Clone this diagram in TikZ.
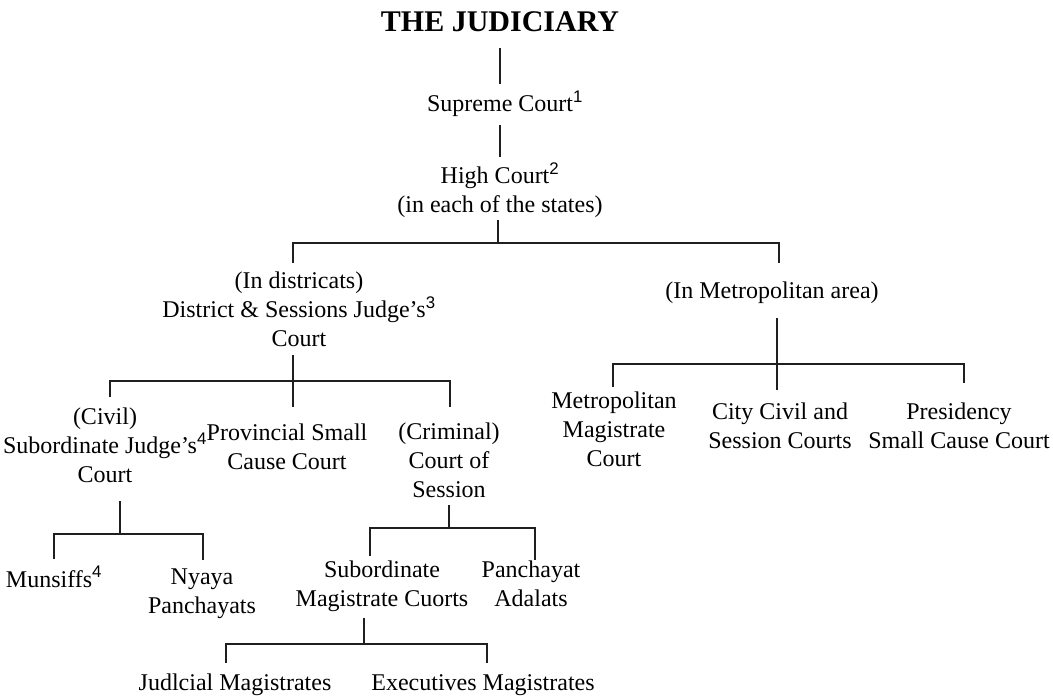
\documentclass[tikz,border=0pt]{standalone}
\usepackage{fontspec}
\setmainfont{Liberation Serif}
\setsansfont{Liberation Sans}
\newcommand{\fnmark}[1]{\textsuperscript{\sffamily #1}}
\begin{document}
\begin{tikzpicture}[x=1pt, y=-1pt,
  every node/.style={inner sep=0pt, align=center, font=\fontsize{24}{29}\selectfont, text=black},
  tree/.style={line width=2.8pt, draw=black!88}]
\useasboundingbox (0,0) rectangle (1053,700);
% title and upper courts
\node[font=\fontsize{30}{36}\selectfont\bfseries, anchor=base] (title) at (500,32) {THE JUDICIARY};
\node[anchor=base] (supreme) at (505,112) {Supreme Court\fnmark{1}};
\node (high) at (500,190) {High Court\fnmark{2}\\(in each of the states)};
\draw[tree, shorten <=16pt, shorten >=7pt] (title.south) -- (title.south |- supreme.north);
\draw[tree, shorten <=8pt, shorten >=5pt] (supreme.south -| title.south) -- (high.north -| title.south);
% districts and metropolitan area
\node (district) at (299,309.7) {(In districats)\\District \& Sessions Judge's\fnmark{3}\\Court};
\node[anchor=base] (metro) at (772,299) {(In Metropolitan area)};
\coordinate (hj) at (498,243);
\coordinate (hl) at (293,243);
\coordinate (hr) at (779,243);
\draw[tree, shorten <=2pt] (high.south -| hj) -- (hj);
\draw[tree, shorten <=9pt, shorten >=19pt] (hl |- district.north) -- (hl) -- (hr) -- (hr |- metro.north);
% courts under the district judge
\node (civil) at (105,445.7) {(Civil)\\Subordinate Judge's\fnmark{4}\\Court};
\node (provincial) at (287,446.3) {Provincial Small\\Cause Court};
\node (criminal) at (449,460.7) {(Criminal)\\Court of\\Session};
\coordinate (dj) at (293,381);
\coordinate (dl) at (110,381);
\coordinate (dr) at (450,381);
\draw[tree, shorten <=8pt] (district.south -| dj) -- (dj);
\draw[tree, shorten <=11pt, shorten >=16pt] (dl |- civil.north) -- (dl) -- (dr) -- (dr |- criminal.north);
\draw[tree, shorten >=16pt] (dj) -- (dj |- provincial.north);
% civil side
\node[anchor=base] (munsiffs) at (54,587) {Munsiffs\fnmark{4}};
\node (nyaya) at (202,594) {Nyaya\\Panchayats};
\coordinate (cj) at (120,534);
\coordinate (cl) at (54,534);
\coordinate (cr) at (203,534);
\draw[tree, shorten <=18pt] (civil.south -| cj) -- (cj);
\draw[tree, shorten <=7pt, shorten >=9pt] (cl |- munsiffs.north) -- (cl) -- (cr) -- (cr |- nyaya.north);
% criminal side
\node (submag) at (382,586) {Subordinate\\Magistrate Cuorts};
\node (panchayat) at (531,583.3) {Panchayat\\Adalats};
\coordinate (kj) at (449,528);
\coordinate (kl) at (370,528);
\coordinate (kr) at (535,528);
\draw[tree, shorten <=7pt] (criminal.south -| kj) -- (kj);
\draw[tree, shorten <=4.6pt, shorten >=0.6pt] (kl |- submag.north) -- (kl) -- (kr) -- (kr |- panchayat.north);
% magistrates
\node[anchor=base] (judicial) at (235,690) {Judlcial Magistrates};
\node[anchor=base] (executive) at (483,690) {Executives Magistrates};
\coordinate (sj) at (364,644);
\coordinate (sl) at (226,644);
\coordinate (sr) at (487,644);
\draw[tree, shorten <=6pt] (submag.south -| sj) -- (sj);
\draw[tree, shorten <=10.6pt, shorten >=10.6pt] (sl |- judicial.north) -- (sl) -- (sr) -- (sr |- executive.north);
% metropolitan courts
\node (metmag) at (614,428.8) {Metropolitan\\Magistrate\\Court};
\node (citycivil) at (780,425.3) {City Civil and\\Session Courts};
\node (presidency) at (959,425.3) {Presidency\\Small Cause Court};
\coordinate (mj) at (777,364);
\coordinate (ml) at (613,364);
\coordinate (mr) at (964,364);
\draw[tree, shorten <=14pt] (metro.south -| mj) -- (mj);
\draw[tree, shorten <=4.6pt, shorten >=19.6pt] (ml |- metmag.north) -- (ml) -- (mr) -- (mr |- presidency.north);
\draw[tree, shorten >=12.6pt] (mj) -- (mj |- citycivil.north);
\end{tikzpicture}
\end{document}
